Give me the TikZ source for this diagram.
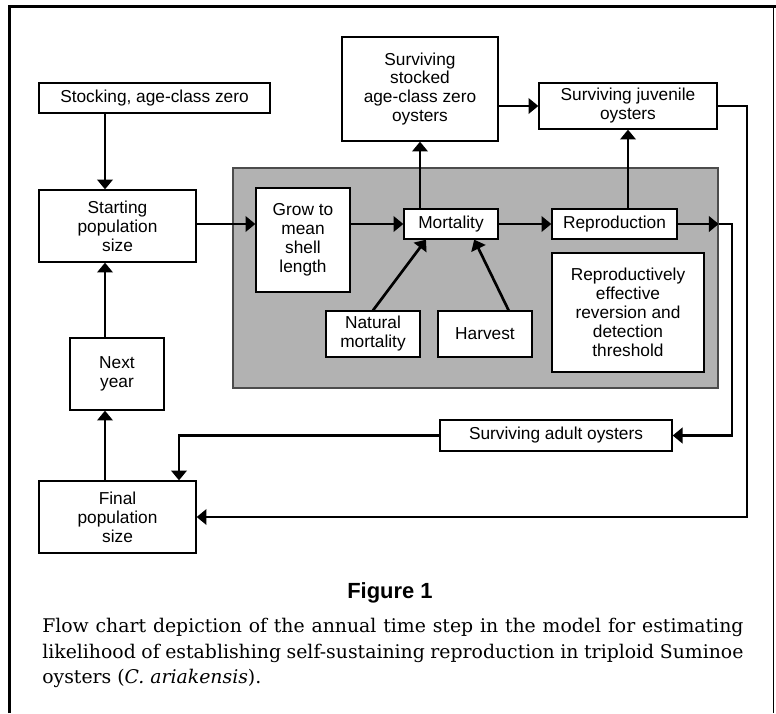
\documentclass[tikz,border=0pt]{standalone}
\usepackage{fontspec}
\setsansfont{Liberation Sans}
\newfontfamily\capfont{DejaVu Serif}
\usetikzlibrary{arrows.meta}

\tikzset{
  box/.style={draw, line width=0.9pt, fill=white, align=center, inner sep=1pt},
  flow/.style={line width=1.9pt, -{Triangle[length=7pt,width=11pt]}},
}

\begin{document}
\begin{tikzpicture}[x=0.025cm, y=-0.025cm, font=\sffamily\fontsize{12.3}{13.5}\selectfont]
\useasboundingbox (0,0) rectangle (776,713);
% frame of the figure
\draw[line width=2pt] (9.5,713) -- (9.5,6.5) -- (776,6.5);
\draw[line width=0.8pt] (773.5,6.5) -- (773.5,713);

% grey area: one year of the model
\node[draw=black!70, line width=0.9pt, fill=black!30, minimum width=12.125cm, minimum height=5.5cm, inner sep=0pt] (model) at (475.5,278) {};

\node[box, minimum width=5.775cm, minimum height=0.75cm] (stock) at (154.5,98) {Stocking, age-class zero};
\node[box, minimum width=3.925cm, minimum height=1.8cm] (start) at (117.5,226) {Starting\\population\\size};
\node[box, minimum width=2.35cm, minimum height=2.6cm] (grow) at (303,240) {Grow to\\mean\\shell\\length};
\node[box, minimum width=3.9cm, minimum height=2.6cm] (stocked) at (420,89) {Surviving\\stocked\\age-class zero\\oysters};
\node[box, minimum width=2.35cm, minimum height=0.75cm] (mort) at (451,224) {Mortality};
\node[box, minimum width=3.125cm, minimum height=0.75cm] (repro) at (614.5,224) {Reproduction};
\node[box, minimum width=4.45cm, minimum height=1.15cm] (juv) at (628,106) {Surviving juvenile\\oysters};
\node[box, minimum width=2.35cm, minimum height=1.15cm] (natmort) at (373,334) {Natural\\mortality};
\node[box, minimum width=2.35cm, minimum height=1.15cm] (harvest) at (485,334) {Harvest};
\node[box, minimum width=3.8cm, minimum height=2.975cm] (revert) at (628,312.5) {Reproductively\\effective\\reversion and\\detection\\threshold};
\node[box, minimum width=5.8cm, minimum height=0.775cm] (adult) at (556,435.5) {Surviving adult oysters};
\node[box, minimum width=2.35cm, minimum height=1.8cm] (nextyr) at (117,374) {Next\\year};
\node[box, minimum width=3.925cm, minimum height=1.8cm] (final) at (117.5,517) {Final\\population\\size};

% turning points of the connectors
\coordinate (lane) at (105,0);
\coordinate (rturn) at (732,224);
\coordinate (jturn) at (747,106);
\coordinate (fturn) at (179,0);

\draw[flow] (stock.south -| lane) -- (start.north -| lane);
\draw[flow] (start.east |- mort) -- (grow.west |- mort);
\draw[flow] (grow.east |- mort) -- (mort.west);
\draw[flow] (mort.east) -- (repro.west);
\draw[flow] (mort.north -| stocked) -- (stocked.south);
\draw[flow] (stocked.east |- juv) -- (juv.west);
\draw[flow] (repro.north -| juv) -- (juv.south);
\draw[flow] (natmort.north) -- (mort.212);
\draw[flow] (harvest.45) -- (mort.326);
\draw[flow] (repro.east) -- (repro.east -| model.east);
\draw[flow] (repro.east -| model.east) -- (rturn) |- (adult.east);
\draw[flow] (adult.west) -| (final.north -| fturn);
\draw[flow] (juv.east) -- (jturn) |- (final.east);
\draw[flow] (final.north -| lane) -- (nextyr.south -| lane);
\draw[flow] (nextyr.north -| lane) -- (start.south -| lane);

% caption
\node[font=\sffamily\bfseries\fontsize{15.6}{18}\selectfont] (figlabel) at (390,593) {Figure 1};
\node[anchor=north west, inner sep=0pt, text width=17.525cm, align=justify, font=\capfont\fontsize{13.4}{18.1}\selectfont] (caption) at (42,618) {Flow chart depiction of the annual time step in the model for estimating\linebreak likelihood of establishing self-sustaining reproduction in triploid Suminoe\linebreak oysters (\textit{C.~ariakensis}).};
\end{tikzpicture}
\end{document}
